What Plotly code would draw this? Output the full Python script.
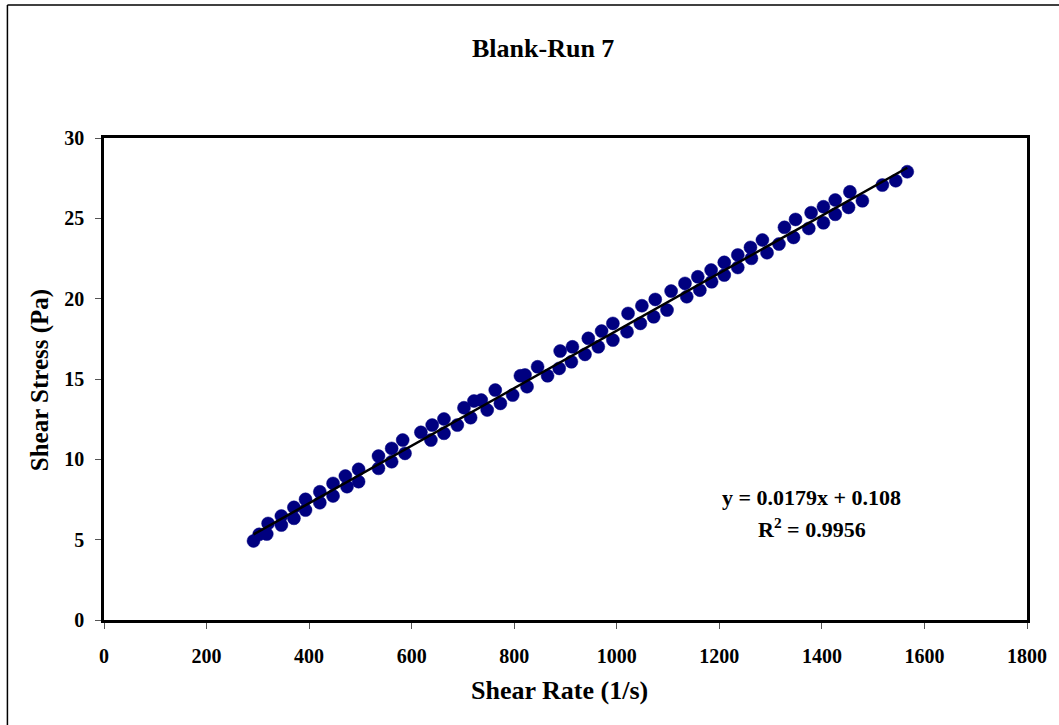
import plotly.graph_objects as go

# Shear rate (1/s) and shear stress (Pa)
shear_rate = [291.6, 302.6, 317.4, 320.0, 345.9, 345.9, 370.4, 370.4, 393.0, 393.0,
              420.9, 420.9, 446.7, 446.7, 473.9, 470.7, 496.5, 496.5, 535.3, 535.3,
              561.0, 561.0, 587.0, 582.5, 618.0, 637.5, 640.0, 663.0, 663.0, 689.0,
              702.0, 715.0, 721.5, 735.7, 747.3, 763.0, 773.0, 797.0, 812.0, 821.0,
              825.0, 845.6, 865.0, 887.7, 889.6, 911.5, 913.5, 938.0, 944.5, 964.0,
              970.4, 992.4, 992.4, 1020.0, 1022.0, 1046.0, 1049.0, 1072.0, 1075.0, 1098.0,
              1106.0, 1136.5, 1133.0, 1162.0, 1158.0, 1185.0, 1184.0, 1209.6, 1209.6, 1236.0,
              1236.0, 1262.6, 1260.7, 1293.0, 1284.0, 1316.3, 1327.0, 1344.7, 1348.6, 1374.5,
              1379.0, 1403.0, 1403.0, 1426.0, 1426.0, 1452.0, 1454.6, 1479.0, 1518.0, 1544.0,
              1566.5]
shear_stress = [4.92, 5.33, 5.35, 6.01, 5.91, 6.47, 6.33, 7.01, 6.84, 7.51,
                7.30, 7.98, 7.72, 8.50, 8.30, 8.96, 8.61, 9.38, 9.44, 10.20,
                9.85, 10.68, 10.37, 11.20, 11.68, 11.20, 12.13, 11.62, 12.51, 12.13,
                13.21, 12.59, 13.63, 13.69, 13.07, 14.31, 13.48, 14.00, 15.20, 15.25,
                14.52, 15.76, 15.20, 15.66, 16.74, 16.07, 17.00, 16.53, 17.53, 17.00,
                17.98, 17.42, 18.46, 17.94, 19.08, 18.46, 19.56, 18.87, 19.95, 19.29,
                20.47, 20.12, 20.95, 20.53, 21.36, 21.05, 21.78, 21.47, 22.26, 21.94,
                22.72, 22.51, 23.19, 22.86, 23.65, 23.40, 24.44, 23.81, 24.93, 24.37,
                25.35, 24.72, 25.72, 25.25, 26.14, 25.68, 26.65, 26.09, 27.07, 27.34,
                27.90]

slope = 0.0179
intercept = 0.108
x_ticks = [0, 200, 400, 600, 800, 1000, 1200, 1400, 1600, 1800]
y_ticks = [0, 5, 10, 15, 20, 25, 30]

trend_x = [min(shear_rate), max(shear_rate)]
trend_y = [slope * v + intercept for v in trend_x]

FONT = "Liberation Serif, Times New Roman, serif"

fig = go.Figure()
fig.add_trace(go.Scatter(
    x=shear_rate, y=shear_stress, mode="markers",
    marker=dict(size=13, color="#000080", line=dict(width=0.5, color="#000080")),
    showlegend=False, hoverinfo="skip"))
fig.add_trace(go.Scatter(
    x=trend_x, y=trend_y, mode="lines",
    line=dict(color="black", width=2.5), showlegend=False, hoverinfo="skip"))

# plot area in pixels: x 104..1031, y 138..620
L, R, T, B = 104, 28, 138, 105
W, H = 1059, 725
pw, ph = W - L - R, H - T - B

def px(X):
    return (X - L) / pw

def py(Y):
    return (H - B - Y) / ph

axis_common = dict(
    showline=True, linecolor="black", linewidth=2.5, mirror=True,
    ticks="outside", ticklen=6, tickwidth=1, tickcolor="#555555",
    showgrid=False, zeroline=False,
    tickfont=dict(family=FONT, size=20, color="black", weight="bold"),
)

def label(text, X, Y, size, angle=0):
    return dict(text=text, xref="paper", yref="paper", x=px(X), y=py(Y),
                xanchor="center", yanchor="middle", showarrow=False, textangle=angle,
                font=dict(family=FONT, size=size, color="black"))

fig.update_layout(
    width=W, height=H,
    margin=dict(l=L, r=R, t=T, b=B),
    paper_bgcolor="white", plot_bgcolor="white",
    xaxis=dict(range=[0, 1800], tickvals=x_ticks, ticktext=[str(v) for v in x_ticks],
               ticklabelstandoff=10, **axis_common),
    yaxis=dict(range=[0, 30], tickvals=y_ticks, ticktext=[str(v) for v in y_ticks],
               ticklabelstandoff=7, **axis_common),
    shapes=[
        dict(type="line", xref="paper", yref="paper", x0=px(7), x1=px(7), y0=py(5), y1=py(740),
             line=dict(color="black", width=1.5)),
        dict(type="line", xref="paper", yref="paper", x0=px(7), x1=px(1080), y0=py(5), y1=py(5),
             line=dict(color="black", width=1.5)),
    ],
    annotations=[
        label("<b>Blank-Run 7</b>", 545, 48, 26),
        label("<b>Shear Rate (1/s)</b>", 561, 690, 26),
        label("<b>Shear Stress (Pa)</b>", 40, 380, 25, -90),
        label("<b>y = 0.0179x + 0.108</b>", 815, 497, 22),
        label("<b>R<sup>2</sup> = 0.9956</b>", 815, 528, 22),
    ],
)

fig.write_html("out.html", config={"displayModeBar": False},
               post_script="document.body.style.margin='0';document.body.style.overflow='hidden';")
